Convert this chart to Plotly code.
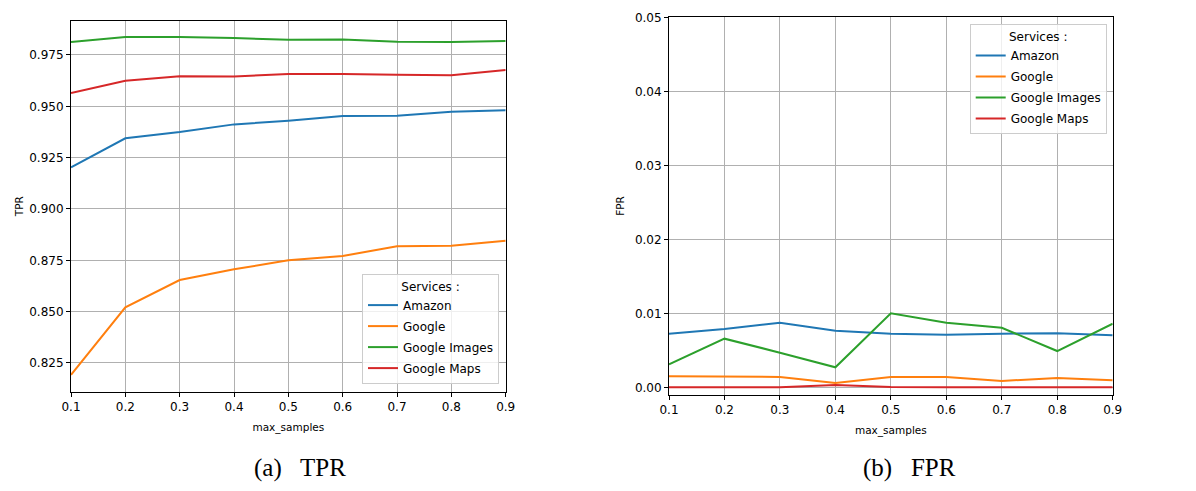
import plotly.graph_objects as go

max_samples = [0.1, 0.2, 0.3, 0.4, 0.5, 0.6, 0.7, 0.8, 0.9]
services = ["Amazon", "Google", "Google Images", "Google Maps"]
colors = ["#1f77b4", "#ff7f0e", "#2ca02c", "#d62728"]

tpr_amazon = [0.9203, 0.9344, 0.9375, 0.9412, 0.9430, 0.9453, 0.9454, 0.9474, 0.9481]
tpr_google = [0.8192, 0.8521, 0.8654, 0.8706, 0.8750, 0.8771, 0.8818, 0.8821, 0.8845]
tpr_google_images = [0.9813, 0.9838, 0.9838, 0.9833, 0.9824, 0.9826, 0.9815, 0.9813, 0.9818]
tpr_google_maps = [0.9565, 0.9625, 0.9646, 0.9645, 0.9658, 0.9658, 0.9654, 0.9651, 0.9677]

fpr_amazon = [0.00724, 0.00788, 0.00873, 0.00765, 0.00724, 0.00711, 0.00724, 0.00730, 0.00703]
fpr_google = [0.00149, 0.00149, 0.00140, 0.00058, 0.00140, 0.00140, 0.00085, 0.00126, 0.00095]
fpr_google_images = [0.00311, 0.00657, 0.00468, 0.00270, 0.01000, 0.00873, 0.00805, 0.00490, 0.00860]
fpr_google_maps = [0.0, 0.0, 0.0, 0.0003, 0.00005, 0.0, 0.0, 0.0, 0.0]

tpr = [tpr_amazon, tpr_google, tpr_google_images, tpr_google_maps]
fpr = [fpr_amazon, fpr_google, fpr_google_images, fpr_google_maps]

OFF = 8  # default page body margin
W, H = 1196 - OFF, 491 - OFF
FONT = "DejaVu Sans, sans-serif"
SERIF = "Liberation Serif, serif"

fig = go.Figure()
for i, (name, c, ys) in enumerate(zip(services, colors, tpr)):
    fig.add_trace(go.Scatter(x=max_samples, y=ys, mode="lines", name=name,
                             line=dict(color=c, width=2), xaxis="x", yaxis="y",
                             legend="legend", legendgroup=f"a{i}"))
for i, (name, c, ys) in enumerate(zip(services, colors, fpr)):
    fig.add_trace(go.Scatter(x=max_samples, y=ys, mode="lines", name=name,
                             line=dict(color=c, width=2), xaxis="x2", yaxis="y2",
                             legend="legend2", legendgroup=f"b{i}"))

def px_x(p):
    return (p - OFF) / W

def px_y(p):
    return 1 - (p - OFF) / H

axis_common = dict(showline=True, linecolor="black", linewidth=1, mirror=True,
                   ticks="outside", ticklen=4, tickwidth=1, tickcolor="black",
                   showgrid=True, gridcolor="#b0b0b0", gridwidth=1, zeroline=False,
                   automargin=False,
                   tickfont=dict(family=FONT, size=12, color="black"))

xt = dict(tickmode="array", tickvals=max_samples,
          ticktext=[f"{v:.1f}" for v in max_samples])

title_font = dict(family=FONT, size=10.5, color="black")
legend_common = dict(bgcolor="rgba(255,255,255,0.8)", bordercolor="#cccccc", borderwidth=1,
                     font=dict(family=FONT, size=12, color="black"),
                     title=dict(text="Services :", side="top center",
                                font=dict(family=FONT, size=12, color="black")),
                     itemwidth=30, tracegroupgap=2)

fig.update_layout(
    width=W, height=H,
    margin=dict(l=0, r=0, t=0, b=0),
    paper_bgcolor="white", plot_bgcolor="white",
    font=dict(family=FONT, size=12, color="black"),
    xaxis=dict(domain=[px_x(71), px_x(505.7)], anchor="y", range=[0.1, 0.9],
               title=dict(text="max_samples", font=title_font, standoff=10),
               **xt, **axis_common),
    yaxis=dict(domain=[px_y(391.7), px_y(20.7)], anchor="x", range=[0.8110, 0.9917],
               tickmode="array", tickvals=[0.825, 0.85, 0.875, 0.9, 0.925, 0.95, 0.975],
               ticktext=["0.825", "0.850", "0.875", "0.900", "0.925", "0.950", "0.975"],
               title=dict(text="TPR", font=title_font, standoff=3),
               **axis_common),
    xaxis2=dict(domain=[px_x(669), px_x(1112.7)], anchor="y2", range=[0.1, 0.9],
                title=dict(text="max_samples", font=title_font, standoff=10),
                **xt, **axis_common),
    yaxis2=dict(domain=[px_y(394.7), px_y(17.3)], anchor="x2", range=[-0.001, 0.05],
                tickmode="array", tickvals=[0.0, 0.01, 0.02, 0.03, 0.04, 0.05],
                ticktext=["0.00", "0.01", "0.02", "0.03", "0.04", "0.05"],
                title=dict(text="FPR", font=title_font, standoff=8),
                **axis_common),
    legend=dict(x=px_x(499), y=px_y(384), xanchor="right", yanchor="bottom", **legend_common),
    legend2=dict(x=px_x(1106.7), y=px_y(24.3), xanchor="right", yanchor="top", **legend_common),
    annotations=[
        dict(text="(a)\u2002 TPR", x=px_x(300), y=px_y(468), xref="paper", yref="paper",
             showarrow=False, xanchor="center", yanchor="middle",
             font=dict(family=SERIF, size=25, color="black")),
        dict(text="(b)\u2002 FPR", x=px_x(909), y=px_y(468), xref="paper", yref="paper",
             showarrow=False, xanchor="center", yanchor="middle",
             font=dict(family=SERIF, size=25, color="black")),
    ],
)

fig.write_html("out.html")
